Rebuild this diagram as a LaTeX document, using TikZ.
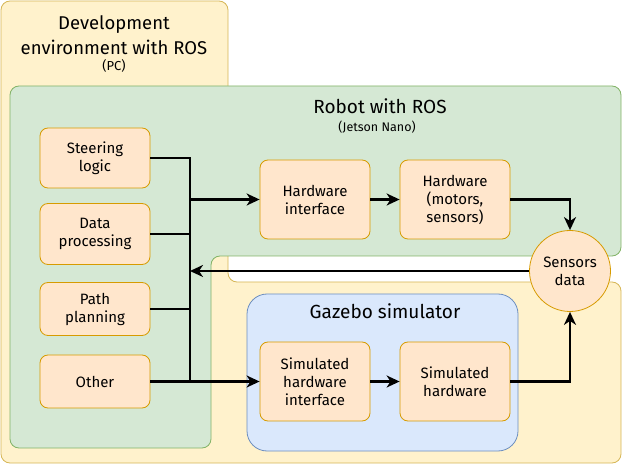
\documentclass[tikz,border=0pt]{standalone}
\usepackage{fontspec}
\setmainfont{Fira Sans}
\usetikzlibrary{arrows.meta}
\definecolor{yfill}{HTML}{FFF2CC}
\definecolor{ydraw}{HTML}{D6B656}
\definecolor{gfill}{HTML}{D5E8D4}
\definecolor{gdraw}{HTML}{82B366}
\definecolor{bfill}{HTML}{DAE8FC}
\definecolor{bdraw}{HTML}{6C8EBF}
\definecolor{ofill}{HTML}{FFE6CC}
\definecolor{odraw}{HTML}{D79B00}
\begin{document}
\begin{tikzpicture}[x=1pt,y=-1pt,
  proc/.style={draw=odraw, fill=ofill, rounded corners=8pt, line width=0.8pt, align=center,
    font=\fontsize{15}{18}\selectfont, inner sep=0pt, minimum width=110pt},
  wire/.style={line width=2.6pt, black},
  arr/.style={wire, -{Stealth[length=13pt, width=12pt, inset=4pt]}},
  title/.style={inner sep=0pt, align=center}]
\useasboundingbox (0,0) rectangle (622,465);
% containers
\draw[fill=yfill, draw=ydraw, line width=0.8pt, rounded corners=9pt]
  (1,1) -- (228,1) -- (228,282) -- (621,282) -- (621,463) -- (1,463) -- cycle;
\draw[fill=gfill, draw=gdraw, line width=0.8pt, rounded corners=9pt]
  (10,86) -- (621,86) -- (621,256) -- (211,256) -- (211,448) -- (10,448) -- cycle;
\draw[fill=bfill, draw=bdraw, line width=0.8pt, rounded corners=20pt]
  (247,294) rectangle (518,451);
% titles
\node[title, font=\fontsize{18.5}{25}\selectfont] (devt) at (114,35) {Development\\environment with ROS};
\node[title, font=\fontsize{13}{15}\selectfont] (pc) at (114,66) {(PC)};
\node[title, font=\fontsize{19}{22}\selectfont] (robt) at (380,106) {Robot with ROS};
\node[title, font=\fontsize{12.5}{14}\selectfont] (jet) at (377,127) {(Jetson Nano)};
\node[title, font=\fontsize{19}{22}\selectfont] (gaz) at (385,311) {Gazebo simulator};
% process boxes
\node[proc, minimum height=60pt] (steer) at (95,158) {Steering\\logic};
\node[proc, minimum height=61pt] (datap) at (95,234) {Data\\processing};
\node[proc, minimum height=53pt] (pathp) at (95,309) {Path\\planning};
\node[proc, minimum height=53pt] (other) at (95,381.5) {Other};
\node[proc, minimum height=79pt] (hwi) at (315,199.5) {Hardware\\interface};
\node[proc, minimum height=79pt] (hw) at (455,199.5) {Hardware\\(motors,\\sensors)};
\node[proc, minimum height=79pt] (siminf) at (315,381.5) {Simulated\\hardware\\interface};
\node[proc, minimum height=79pt] (simhw) at (455,381.5) {Simulated\\hardware};
\node[draw=odraw, fill=ofill, line width=0.8pt, circle, minimum size=81pt, inner sep=0pt,
  align=center, font=\fontsize{15}{18}\selectfont] (sens) at (570,271) {Sensors\\data};
% connectors
\coordinate (busx) at (190,0);
\draw[wire] (steer.east) -| (busx |- other.east);
\draw[wire] (datap.east) -- (busx |- datap.east);
\draw[wire] (pathp.east) -- (busx |- pathp.east);
\draw[arr] (other.east) -- (siminf.west);
\draw[arr] (busx |- hwi.west) -- (hwi.west);
\draw[arr] (hwi.east) -- (hw.west);
\draw[arr] (hw.east) -| (sens.north);
\draw[arr] (sens.west) -- (busx |- sens.west);
\draw[arr] (siminf.east) -- (simhw.west);
\draw[arr] (simhw.east) -| (sens.south);
\end{tikzpicture}
\end{document}
